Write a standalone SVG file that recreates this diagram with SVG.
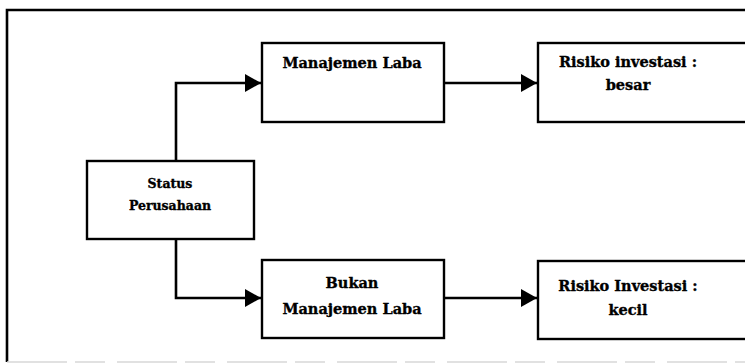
<svg xmlns="http://www.w3.org/2000/svg" width="745" height="363" viewBox="0 0 745 363">
<style>
.box{fill:#fff;stroke:#000;stroke-width:2.4}
.t{font-family:"DejaVu Serif","Liberation Serif",serif;font-weight:bold;font-size:14.5px;fill:#000;stroke:#000;stroke-width:0.35;text-anchor:middle}
.s{font-size:12.5px}
.c{fill:none;stroke:#000;stroke-width:2.6}
</style>
<defs>
<marker id="ah" markerWidth="16" markerHeight="18" refX="16" refY="9" orient="auto" markerUnits="userSpaceOnUse">
<path d="M0,0 L16,9 L0,18 Z" fill="#000"/>
</marker>
</defs>
<g id="frame">
<path d="M7,362 V10 H745" fill="none" stroke="#000" stroke-width="2.6"/>
<path d="M7,362 H745" fill="none" stroke="#d8d8d8" stroke-width="1.5" stroke-dasharray="60,8,30,12"/>
</g>
<g id="connectors">
<path class="c" d="M176,161 V83 H261" marker-end="url(#ah)"/>
<path class="c" d="M176,239 V298 H261" marker-end="url(#ah)"/>
<path class="c" d="M444,83 H537" marker-end="url(#ah)"/>
<path class="c" d="M444,298 H537" marker-end="url(#ah)"/>
</g>
<g id="status">
<rect class="box" x="87" y="161" width="167" height="78"/>
<text class="t s" x="170" y="188">Status</text>
<text class="t s" x="170" y="210">Perusahaan</text>
</g>
<g id="manajemen-laba">
<rect class="box" x="262" y="43" width="182" height="79"/>
<text class="t" x="352" y="68">Manajemen Laba</text>
</g>
<g id="bukan-manajemen-laba">
<rect class="box" x="262" y="260" width="182" height="78"/>
<text class="t" x="352" y="288">Bukan</text>
<text class="t" x="352" y="314">Manajemen Laba</text>
</g>
<g id="risiko-besar">
<rect class="box" x="538" y="43" width="230" height="79"/>
<text class="t" x="628" y="67">Risiko investasi :</text>
<text class="t" x="628" y="90">besar</text>
</g>
<g id="risiko-kecil">
<rect class="box" x="538" y="261" width="230" height="78"/>
<text class="t" x="628" y="291">Risiko Investasi :</text>
<text class="t" x="628" y="315">kecil</text>
</g>
</svg>
